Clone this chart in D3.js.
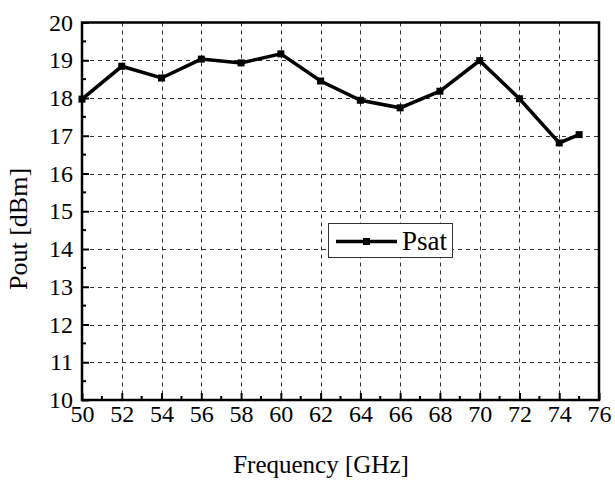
<!DOCTYPE html>
<html>
<head>
<meta charset="utf-8">
<script src="https://d3js.org/d3.v7.min.js"></script>
<style>
  body { margin: 0; background: #fff; }
</style>
</head>
<body>
<script>
// data
let freq = [50, 52, 54, 56, 58, 60, 62, 64, 66, 68, 70, 72, 74, 75];
let psat = [17.97, 18.84, 18.53, 19.03, 18.93, 19.17, 18.45, 17.94, 17.74, 18.18, 18.99, 17.98, 16.81, 17.03];
let xTicks = d3.range(50, 77, 2);
let yTicks = d3.range(10, 21, 1);
let seriesName = "Psat";

let width = 615, height = 482;
let pLeft = 82, pRight = 599, pTop = 22.5, pBottom = 400;
let serif = "'Liberation Serif'";

let svg = d3.select("body").append("svg")
    .attr("width", width)
    .attr("height", height);

let x = d3.scaleLinear().domain([50, 76]).range([pLeft, pRight]);
let y = d3.scaleLinear().domain([10, 20]).range([pBottom, pTop]);

// grid
let grid = svg.append("g")
    .attr("stroke", "#333")
    .attr("stroke-width", 1)
    .attr("stroke-dasharray", "4,4");
grid.selectAll(".vg")
  .data(xTicks.slice(1, -1))
  .enter().append("line")
    .attr("x1", d => Math.round(x(d)) + 0.5)
    .attr("x2", d => Math.round(x(d)) + 0.5)
    .attr("y1", pTop)
    .attr("y2", pBottom);
grid.selectAll(".hg")
  .data(yTicks.slice(1, -1))
  .enter().append("line")
    .attr("x1", pLeft)
    .attr("x2", pRight)
    .attr("y1", d => Math.round(y(d)) + 0.5)
    .attr("y2", d => Math.round(y(d)) + 0.5);

// axes (ticks pointing inward)
let xAxis = svg.append("g")
    .attr("transform", "translate(0," + pBottom + ")")
    .call(d3.axisBottom(x).tickValues(xTicks).tickSize(-7).tickPadding(5).tickFormat(d3.format("d")));
let yAxis = svg.append("g")
    .attr("transform", "translate(" + pLeft + ",0)")
    .call(d3.axisLeft(y).tickValues(yTicks).tickSize(-7).tickPadding(9).tickFormat(d3.format("d")));
[xAxis, yAxis].forEach(a => {
  a.attr("font-family", null).attr("font-size", null);
  a.select(".domain").remove();
  a.selectAll(".tick line").attr("stroke", "#000").attr("stroke-width", 2);
  a.selectAll(".tick text")
    .style("font-family", serif)
    .style("font-size", "24px")
    .attr("fill", "#000");
});

// minor ticks
svg.append("g").selectAll("line")
  .data(d3.range(51, 76, 2))
  .enter().append("line")
    .attr("x1", d => x(d)).attr("x2", d => x(d))
    .attr("y1", pBottom).attr("y2", pBottom - 4)
    .attr("stroke", "#000").attr("stroke-width", 2);
svg.append("g").selectAll("line")
  .data(d3.range(10.5, 20, 1))
  .enter().append("line")
    .attr("x1", pLeft).attr("x2", pLeft + 4)
    .attr("y1", d => y(d)).attr("y2", d => y(d))
    .attr("stroke", "#000").attr("stroke-width", 2);

// frame
svg.append("rect")
    .attr("x", pLeft).attr("y", pTop)
    .attr("width", pRight - pLeft).attr("height", pBottom - pTop)
    .attr("fill", "none")
    .attr("stroke", "#000")
    .attr("stroke-width", 2.5);

// series
let line = d3.line()
    .x((d, i) => x(freq[i]))
    .y(d => y(d));
svg.append("path")
    .datum(psat)
    .attr("d", line)
    .attr("fill", "none")
    .attr("stroke", "#000")
    .attr("stroke-width", 3.5)
    .attr("stroke-linejoin", "miter");
svg.selectAll(".pt")
  .data(psat)
  .enter().append("rect")
    .attr("x", (d, i) => x(freq[i]) - 3.5)
    .attr("y", d => y(d) - 3.5)
    .attr("width", 7)
    .attr("height", 7)
    .attr("fill", "#000");

// legend
let lg = svg.append("g");
lg.append("rect")
    .attr("x", 328.5).attr("y", 223.5)
    .attr("width", 124).attr("height", 34)
    .attr("fill", "#fff")
    .attr("stroke", "#333")
    .attr("stroke-width", 1);
lg.append("line")
    .attr("x1", 336).attr("x2", 397)
    .attr("y1", 241.5).attr("y2", 241.5)
    .attr("stroke", "#000").attr("stroke-width", 3.5);
lg.append("rect")
    .attr("x", 363).attr("y", 238).attr("width", 7).attr("height", 7)
    .attr("fill", "#000");
lg.append("text")
    .attr("x", 402).attr("y", 250)
    .style("font-family", serif)
    .style("font-size", "27px")
    .text(seriesName);

// axis titles
svg.append("text")
    .attr("x", 321)
    .attr("y", 473)
    .attr("text-anchor", "middle")
    .style("font-family", serif)
    .style("font-size", "25px")
    .text("Frequency [GHz]");
svg.append("text")
    .attr("transform", "translate(27,229) rotate(-90)")
    .attr("text-anchor", "middle")
    .style("font-family", serif)
    .style("font-size", "26px")
    .text("Pout [dBm]");
</script>
</body>
</html>
